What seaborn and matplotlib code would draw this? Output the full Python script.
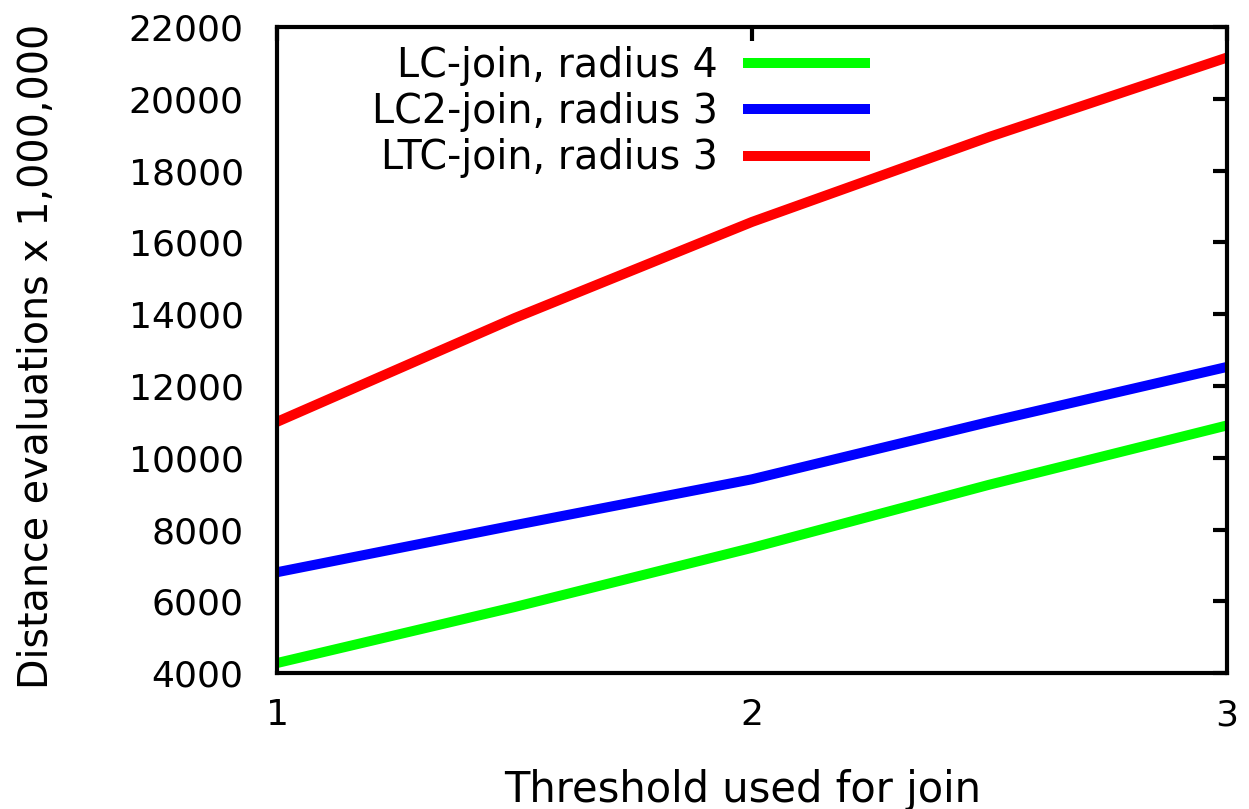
import pandas as pd
import seaborn as sns
import matplotlib
matplotlib.use('Agg')
import matplotlib.pyplot as plt

# values
thresholds = [1, 1.5, 2, 2.5, 3]
lc_join_r4 = [4280, 5840, 7490, 9250, 10900]
lc2_join_r3 = [6810, 8120, 9400, 11000, 12530]
ltc_join_r3 = [11000, 13890, 16570, 18940, 21150]

series_names = ['LC-join, radius 4', 'LC2-join, radius 3', 'LTC-join, radius 3']
series_colors = ['#00ff00', '#0000ff', '#ff0000']

rows = []
for name, vals in zip(series_names, [lc_join_r4, lc2_join_r3, ltc_join_r3]):
    for x, y in zip(thresholds, vals):
        rows.append({'Threshold': x, 'Evaluations': y, 'Series': name})
df = pd.DataFrame(rows)

sns.set_style('white')
plt.rcParams['font.family'] = ['DejaVu Sans']
plt.rcParams['text.color'] = 'black'
plt.rcParams['axes.labelcolor'] = 'black'

fig = plt.figure(figsize=(12.49, 8.09), dpi=100)
ax = fig.add_axes([0.2218, 0.168, 0.9824 - 0.2218, 0.9666 - 0.168])

sns.lineplot(data=df, x='Threshold', y='Evaluations', hue='Series',
             hue_order=series_names, palette=series_colors, linewidth=7.2,
             ax=ax, legend=True)
for ln in ax.get_lines():
    ln.set_solid_capstyle('butt')

ax.set_xlim(1, 3)
ax.set_ylim(4000, 22000)
ax.set_xticks([1, 2, 3])
ax.set_yticks(range(4000, 22001, 2000))
ax.tick_params(axis='both', direction='in', length=10, width=3, labelsize=26,
               top=True, right=True, colors='black')
ax.tick_params(axis='y', pad=24)
ax.tick_params(axis='x', pad=18)
for sp in ax.spines.values():
    sp.set_visible(True)
    sp.set_linewidth(3)
    sp.set_color('black')

ax.set_xlabel('Threshold used for join', fontsize=30, color='black')
ax.set_ylabel('Distance evaluations x 1,000,000', fontsize=28.5, color='black')
ax.xaxis.set_label_coords(0.49, -0.148)
ax.yaxis.set_label_coords(-0.232, 0.49)

handles, labels = ax.get_legend_handles_labels()
leg = ax.legend(handles, labels, loc='upper right', bbox_to_anchor=(0.624, 0.971),
                frameon=False, markerfirst=False, fontsize=28.5, handlelength=3.2,
                handletextpad=0.65, labelspacing=0.16, borderpad=0, borderaxespad=0)
for h in leg.legend_handles:
    h.set_linewidth(7.2)
for t in leg.get_texts():
    t.set_color('black')

fig.savefig('out.png', dpi=100)
